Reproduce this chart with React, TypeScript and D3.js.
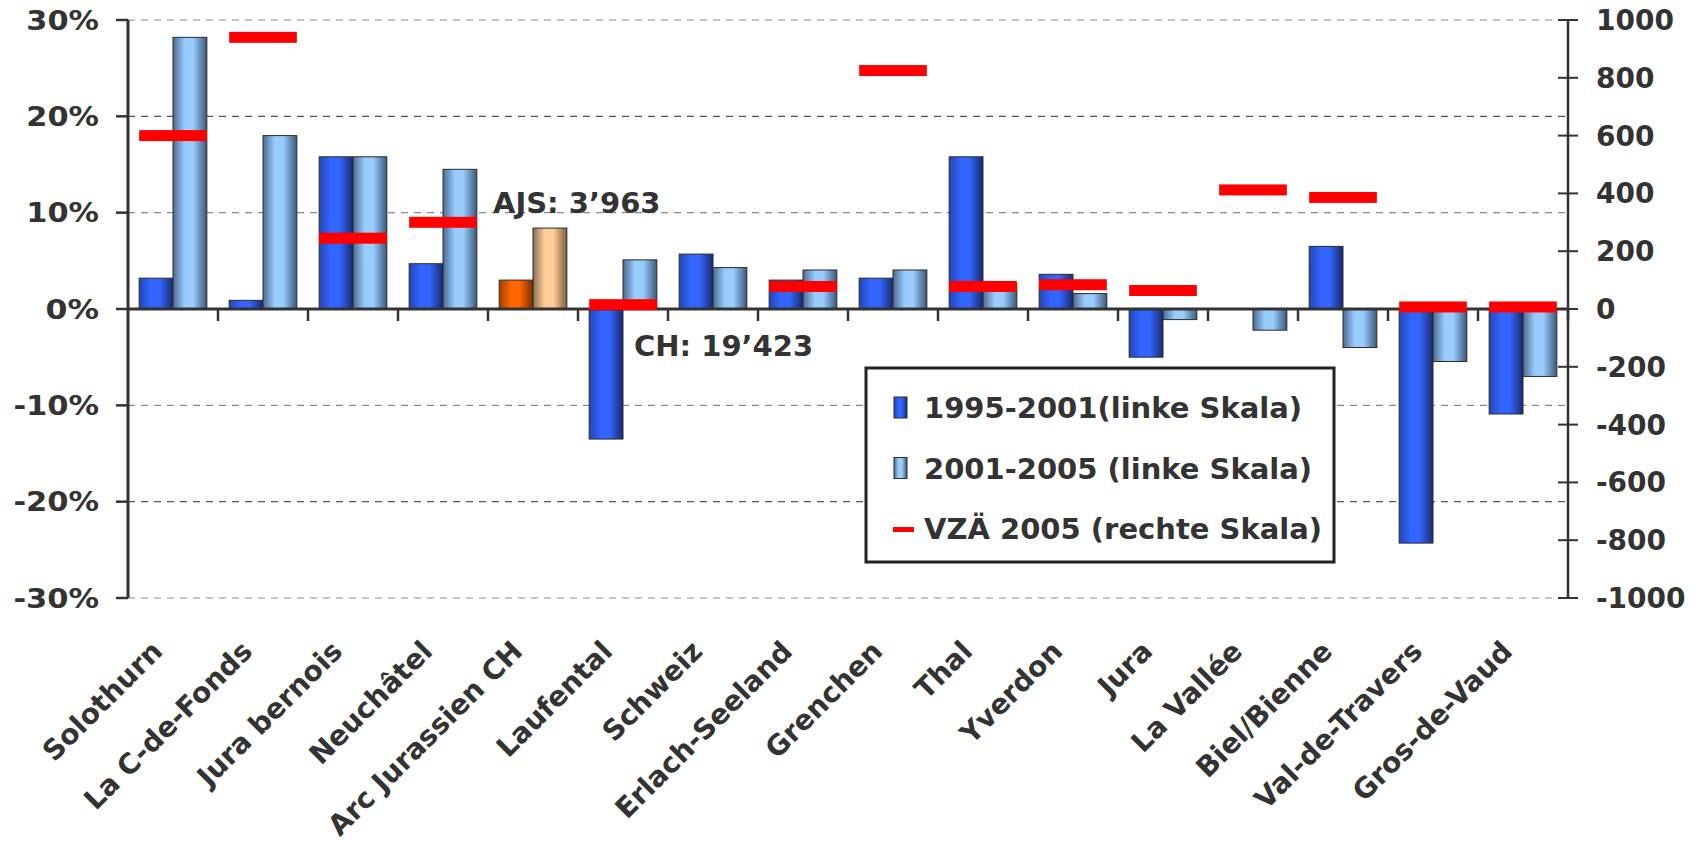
import * as d3 from 'd3'

const categories = [
  'Solothurn', 'La C-de-Fonds', 'Jura bernois', 'Neuchâtel', 'Arc Jurassien CH', 'Laufental',
  'Schweiz', 'Erlach-Seeland', 'Grenchen', 'Thal', 'Yverdon', 'Jura', 'La Vallée',
  'Biel/Bienne', 'Val-de-Travers', 'Gros-de-Vaud',
]
// growth in % (left scale)
const growth9501 = [3.2, 0.9, 15.8, 4.7, 3.0, -13.5, 5.7, 3.0, 3.2, 15.8, 3.6, -5.0, 0, 6.5, -24.3, -10.9]
const growth0105 = [28.2, 18.0, 15.8, 14.5, 8.4, 5.1, 4.3, 4.05, 4.05, 2.6, 1.6, -1.1, -2.2, -4.0, -5.45, -7.0]
// full-time equivalents 2005 (right scale)
const vza2005: (number | null)[] = [600, 940, 245, 300, null, 15, null, 78, 825, 78, 84, 64, 412, 386, 7, 7]

const leftTicks = [-30, -20, -10, 0, 10, 20, 30]
const rightTicks = [-1000, -800, -600, -400, -200, 0, 200, 400, 600, 800, 1000]
const highlight = 'Arc Jurassien CH'
const legendItems = ['1995-2001(linke Skala)', '2001-2005 (linke Skala)', 'VZÄ 2005 (rechte Skala)']

const W = 1699
const H = 843
const M = { left: 128, right: 1568, top: 20, bottom: 598 }
const FONT = '"DejaVu Sans", Verdana, sans-serif'
const TXT = '#333333'
const AXIS = '#333333'
const RED = '#ff0000'

// Verdana-bold-like width for the left tick labels (its % is much wider than DejaVu's)
const pctLabelWidth = (t: number, fs: number) =>
  fs * (String(Math.abs(t)).length * 0.711 + 1.27 + (t < 0 ? 0.478 : 0))

function Grad({ id, edgeL, mid, edgeR }: { id: string; edgeL: string; mid: string; edgeR: string }) {
  return (
    <linearGradient id={id} x1="0" y1="0" x2="1" y2="0">
      <stop offset="0%" stopColor={edgeL} />
      <stop offset="35%" stopColor={mid} />
      <stop offset="60%" stopColor={mid} />
      <stop offset="100%" stopColor={edgeR} />
    </linearGradient>
  )
}

export default function App() {
  const x = d3.scaleBand<string>().domain(categories).range([M.left, M.right])
  const inner = d3.scaleBand<string>().domain(['a', 'b']).range([0, x.bandwidth()]).paddingOuter(0.33)
  const yL = d3.scaleLinear().domain([-30, 30]).range([M.bottom, M.top])
  const yR = d3.scaleLinear().domain([-1000, 1000]).range([M.bottom, M.top])
  const bw = inner.bandwidth()
  const y0 = yL(0)

  const bar = (cat: string, v: number, key: 'a' | 'b', fill: string) => {
    const bx = x(cat)! + inner(key)!
    const by = Math.min(yL(v), y0)
    const h = Math.abs(yL(v) - y0)
    return <rect key={cat + key} x={bx} y={by} width={bw} height={h} fill={fill} stroke="#2b2b2b" strokeWidth={1} />
  }

  return (
    <svg width={W} height={H} style={{ position: 'absolute', left: 0, top: 0, display: 'block', background: '#fff' }}
      fontFamily={FONT}>
      <defs>
        <Grad id="gDark" edgeL="#2446b4" mid="#3366ff" edgeR="#1a2a6e" />
        <Grad id="gLight" edgeL="#4d6b8f" mid="#99ccff" edgeR="#3b5878" />
        <Grad id="gOrange" edgeL="#a24000" mid="#ff6600" edgeR="#7a2e00" />
        <Grad id="gTan" edgeL="#8c7152" mid="#ffcc99" edgeR="#7d6040" />
      </defs>

      {/* gridlines */}
      {leftTicks.filter(t => t !== 0).map(t => (
        <line key={'g' + t} x1={M.left} x2={M.right} y1={yL(t)} y2={yL(t)}
          stroke={Math.abs(t) === 20 ? '#555' : '#8a8a8a'} strokeWidth={1.2} strokeDasharray="7 6" />
      ))}

      {/* bars */}
      {categories.map((c, i) => bar(c, growth9501[i], 'a', c === highlight ? 'url(#gOrange)' : 'url(#gDark)'))}
      {categories.map((c, i) => bar(c, growth0105[i], 'b', c === highlight ? 'url(#gTan)' : 'url(#gLight)'))}

      {/* zero line + category ticks */}
      <line x1={M.left} x2={M.right} y1={y0} y2={y0} stroke={AXIS} strokeWidth={3} />
      {categories.map(c => (
        <line key={'ct' + c} x1={x(c)! + x.bandwidth()} x2={x(c)! + x.bandwidth()} y1={y0} y2={y0 + 12}
          stroke={AXIS} strokeWidth={2.5} />
      ))}

      {/* left axis */}
      <line x1={M.left} x2={M.left} y1={M.top} y2={M.bottom} stroke={AXIS} strokeWidth={3} />
      {leftTicks.map(t => (
        <g key={'lt' + t}>
          <line x1={M.left - 12} x2={M.left} y1={yL(t)} y2={yL(t)} stroke={AXIS} strokeWidth={2.5} />
          <text x={M.left - 29} y={yL(t)} dy="0.36em" textAnchor="end" fontSize={27} fontWeight="bold" fill={TXT}
            textLength={pctLabelWidth(t, 27)} lengthAdjust="spacingAndGlyphs">
            {t + '%'}
          </text>
        </g>
      ))}

      {/* right axis */}
      <line x1={M.right} x2={M.right} y1={M.top} y2={M.bottom} stroke={AXIS} strokeWidth={2.5} />
      {rightTicks.map(t => (
        <g key={'rt' + t}>
          <line x1={M.right - 10} x2={M.right + 10} y1={yR(t)} y2={yR(t)} stroke={AXIS} strokeWidth={2} />
          <text x={M.right + 28} y={yR(t)} dy="0.36em" textAnchor="start" fontSize={28} fontWeight="bold" fill={TXT}>
            {t}
          </text>
        </g>
      ))}

      {/* VZÄ markers */}
      {categories.map((c, i) => {
        const v = vza2005[i]
        if (v == null) return null
        return <rect key={'v' + c} x={x(c)! + inner('a')!} y={yR(v) - 5.5} width={bw * 2} height={11} fill={RED} />
      })}

      {/* category labels */}
      {categories.map(c => {
        const px = x(c)! + x.bandwidth() / 2 - 9
        const py = 653
        return (
          <text key={'cl' + c} x={px} y={py} transform={`rotate(-45 ${px} ${py})`} textAnchor="end"
            fontSize={28} fontWeight="bold" fill={TXT}>
            {c}
          </text>
        )
      })}

      {/* annotations */}
      <text x={493} y={213} fontSize={29} fontWeight="bold" fill={TXT}>AJS: 3’963</text>
      <text x={634} y={356} fontSize={29} fontWeight="bold" fill={TXT}>CH: 19’423</text>

      {/* legend */}
      <g>
        <rect x={866} y={368} width={468} height={194} fill="#fff" stroke="#222" strokeWidth={3} />
        {legendItems.map((t, i) => {
          const by = 418 + i * 60.5
          return (
            <g key={t}>
              {i === 0 && <rect x={894} y={by - 21} width={13} height={21} fill="url(#gDark)" stroke="#2b2b2b" strokeWidth={1} />}
              {i === 1 && <rect x={894} y={by - 21} width={13} height={21} fill="url(#gLight)" stroke="#2b2b2b" strokeWidth={1} />}
              {i === 2 && <rect x={893} y={by - 12} width={21} height={5} fill={RED} />}
              <text x={924} y={by} fontSize={29} fontWeight="bold" fill={TXT}>{t}</text>
            </g>
          )
        })}
      </g>
    </svg>
  )
}
